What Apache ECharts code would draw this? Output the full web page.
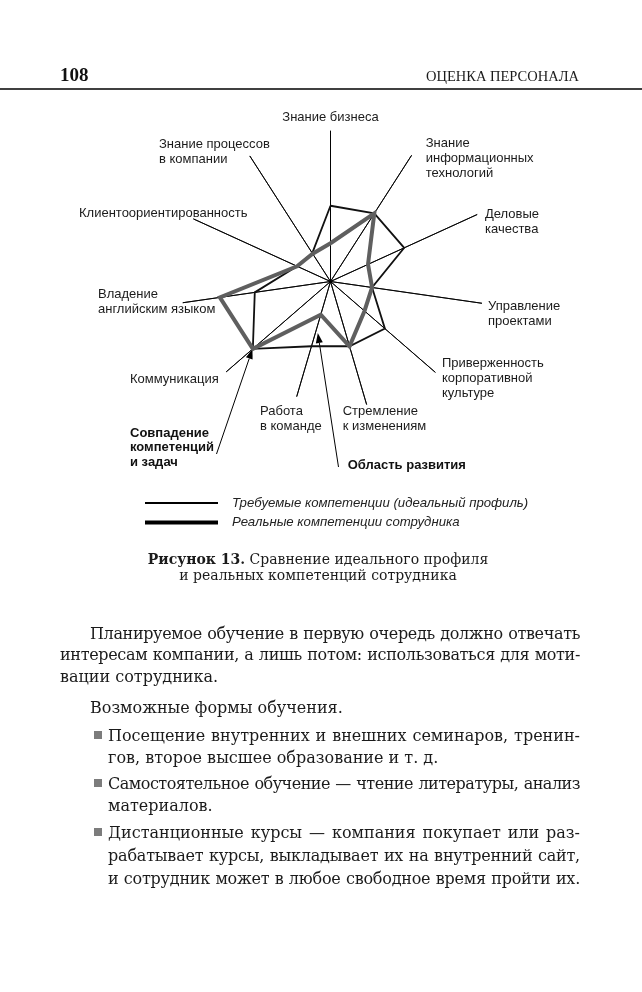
<!DOCTYPE html>
<html>
<head>
<meta charset="utf-8">
<script src="https://cdn.jsdelivr.net/npm/echarts@6/dist/echarts.min.js"></script>
<style>
  html, body { margin: 0; padding: 0; background: #fff; }
  #page { position: relative; width: 642px; height: 992px; overflow: hidden; }
  #chart { position: absolute; left: 0; top: 0; width: 642px; height: 992px; }
  .ln { position: absolute; font-family: 'DejaVu Serif', serif; font-size: 16px; line-height: 22px; color: #1b1b1b; white-space: nowrap; }
  .full { text-align: justify; text-align-last: justify; }
  .bul { position: absolute; width: 8px; height: 8px; background: #7c7c7c; }
</style>
</head>
<body>
<div id="page">
  <div id="chart"></div>
  <div id="text"></div>
</div>
<script>
// axes go counterclockwise from the top, as ECharts radar places them
const categories = [
  'Знание бизнеса',
  'Знание процессов\nв компании',
  'Клиентоориентированность',
  'Владение\nанглийским языком',
  'Коммуникация',
  'Работа\nв команде',
  'Стремление\nк изменениям',
  'Приверженность\nкорпоративной\nкультуре',
  'Управление\nпроектами',
  'Деловые\nкачества',
  'Знание\nинформационных\nтехнологий'
];
const idealValues = [5.05, 2.25, 2.45, 5.1, 6.85, 4.5, 4.5, 4.8, 2.8, 5.4, 5.4];
const realValues  = [2.55, 2.2, 2.45, 7.45, 6.85, 2.3, 4.5, 3.0, 2.8, 2.75, 5.4];
const spokeLength = [10.05, 9.95, 10.05, 9.95, 9.2, 8.0, 8.55, 9.25, 10.2, 10.75, 10.0];
const seriesNames = ['Требуемые компетенции (идеальный профиль)', 'Реальные компетенции сотрудника'];
const axisMax = 11;

// where each axis caption sits: [x, first line centre y, align]
const labelPos = [
  [330.5, 117, 'center'], [159, 144.3, 'left'], [79, 213.3, 'left'], [98, 294, 'left'],
  [130, 379.3, 'left'], [260, 411.7, 'left'], [342.7, 411.7, 'left'], [442, 363.3, 'left'],
  [488, 306, 'left'], [485, 214, 'left'], [425.7, 143.3, 'left']
];

const bodyLines = [
  [90, 634, 'Планируемое обучение в первую очередь должно отвечать', 1, 0],
  [60, 655, 'интересам компании, а лишь потом: использоваться для моти-', 1, 0],
  [60, 677, 'вации сотрудника.', 0, 0],
  [90, 708, 'Возможные формы обучения.', 0, 0],
  [108, 736, 'Посещение внутренних и внешних семинаров, тренин-', 1, 1],
  [108, 758, 'гов, второе высшее образование и т. д.', 0, 0],
  [108, 784, 'Самостоятельное обучение — чтение литературы, анализ', 1, 1],
  [108, 806, 'материалов.', 0, 0],
  [108, 833, 'Дистанционные курсы — компания покупает или раз-', 1, 1],
  [108, 856, 'рабатывает курсы, выкладывает их на внутренний сайт,', 1, 0],
  [108, 879, 'и сотрудник может в любое свободное время пройти их.', 1, 0]
];

const textBox = document.getElementById('text');
bodyLines.forEach(function (l) {
  const d = document.createElement('div');
  d.className = 'ln' + (l[3] ? ' full' : '');
  d.style.left = l[0] + 'px';
  d.style.top = (l[1] - 11) + 'px';
  d.textContent = l[2];
  textBox.appendChild(d);
  if (l[3]) {
    // squeeze letters a little if the line is wider than the column
    const w = 580 - l[0];
    const natural = d.getBoundingClientRect().width;
    if (natural > w - 4) {
      d.style.letterSpacing = ((w - 4 - natural) / l[2].length) + 'px';
    }
    d.style.width = w + 'px';
  }
  if (l[4]) {
    const b = document.createElement('div');
    b.className = 'bul';
    b.style.left = '94px';
    b.style.top = (l[1] - 5) + 'px';
    textBox.appendChild(b);
  }
});

const sans = "'Liberation Sans', Arial, sans-serif";
const serif = "'DejaVu Serif', serif";

function arrow(x1, y1, x2, y2) {
  const a = Math.atan2(y2 - y1, x2 - x1);
  const len = 10, hw = 3.5;
  const bx = x2 - len * Math.cos(a), by = y2 - len * Math.sin(a);
  const px = -Math.sin(a) * hw, py = Math.cos(a) * hw;
  return [
    { type: 'line', shape: { x1: x1, y1: y1, x2: bx, y2: by }, style: { stroke: '#000', lineWidth: 1 } },
    { type: 'polygon', shape: { points: [[x2, y2], [bx + px, by + py], [bx - px, by - py]] }, style: { fill: '#000' } }
  ];
}

const graphics = [
  { type: 'text', x: 60, y: 76, style: { text: '108', font: "bold 19px 'Liberation Serif', serif", fill: '#111', textVerticalAlign: 'middle' } },
  { type: 'text', x: 579, y: 77, style: { text: 'ОЦЕНКА ПЕРСОНАЛА', font: "14.5px 'Liberation Serif', serif", fill: '#1b1b1b', textAlign: 'right', textVerticalAlign: 'middle' } },
  { type: 'line', shape: { x1: 0, y1: 89, x2: 642, y2: 89 }, style: { stroke: '#000', lineWidth: 1.6 } },
  { type: 'text', x: 130, y: 433.3 - 7.5, style: { text: 'Совпадение\nкомпетенций\nи задач', font: 'bold 13px ' + sans, lineHeight: 14.7, fill: '#111', textVerticalAlign: 'top' } },
  { type: 'text', x: 347.7, y: 465.7, style: { text: 'Область развития', font: 'bold 13px ' + sans, fill: '#111', textVerticalAlign: 'middle' } },
  { type: 'text', x: 318, y: 560.5, style: {
      text: '{b|Рисунок 13.} Сравнение идеального профиля',
      font: '14px ' + serif, fill: '#1b1b1b', textAlign: 'center', textVerticalAlign: 'middle',
      rich: { b: { fontWeight: 'bold', fontFamily: serif, fontSize: 14 } } } },
  { type: 'text', x: 318, y: 576, style: { text: 'и реальных компетенций сотрудника', font: '14px ' + serif, fill: '#1b1b1b', textAlign: 'center', textVerticalAlign: 'middle' } }
].concat(arrow(216.5, 454, 252.5, 349), arrow(338.5, 467, 317.8, 333));

categories.forEach(function (c, i) {
  const p = labelPos[i];
  graphics.push({
    type: 'text', x: p[0], y: p[1] - 7.5,
    style: { text: c, font: '13px ' + sans, lineHeight: 15, fill: '#1b1b1b', textAlign: p[2], textVerticalAlign: 'top' }
  });
});

const chart = echarts.init(document.getElementById('chart'));
chart.setOption({
  animation: false,
  backgroundColor: '#fff',
  radar: {
    center: [330.5, 281.5],
    radius: 165,
    startAngle: 90,
    splitNumber: 1,
    shape: 'polygon',
    indicator: categories.map(function (c) { return { name: c, min: 0, max: axisMax }; }),
    axisName: { show: false },
    axisLine: { show: false },
    axisTick: { show: false },
    axisLabel: { show: false },
    splitLine: { show: false },
    splitArea: { show: false }
  },
  legend: [
    {
      data: [{ name: seriesNames[0], itemStyle: { color: '#000' } }],
      left: 145, top: 496.5, padding: 0, icon: 'rect', itemWidth: 73, itemHeight: 2,
      selectedMode: false,
      textStyle: { fontFamily: sans, fontStyle: 'italic', fontSize: 13.2, color: '#222', padding: [0, 0, 0, 9] }
    },
    {
      data: [{ name: seriesNames[1], itemStyle: { color: '#000' } }],
      left: 145, top: 516, padding: 0, icon: 'rect', itemWidth: 73, itemHeight: 4,
      selectedMode: false,
      textStyle: { fontFamily: sans, fontStyle: 'italic', fontSize: 13.2, color: '#222', padding: [0, 0, 0, 9] }
    }
  ],
  series: [
    {
      type: 'radar', name: 'spokes', silent: true, symbol: 'none', z: 1,
      lineStyle: { color: '#000', width: 0.9 },
      data: spokeLength.map(function (v, i) {
        return { value: categories.map(function (_, j) { return j === i ? v : 0; }) };
      })
    },
    {
      type: 'radar', name: seriesNames[0], symbol: 'none', z: 2,
      itemStyle: { color: '#111' },
      lineStyle: { color: '#111', width: 1.8, join: 'miter' },
      data: [{ name: seriesNames[0], value: idealValues }]
    },
    {
      type: 'radar', name: seriesNames[1], symbol: 'none', z: 3,
      itemStyle: { color: '#5f5f5f' },
      lineStyle: { color: '#5f5f5f', width: 4, join: 'miter' },
      data: [{ name: seriesNames[1], value: realValues }]
    }
  ],
  graphic: graphics
});
window.addEventListener('resize', function () { chart.resize(); });
</script>
</body>
</html>
